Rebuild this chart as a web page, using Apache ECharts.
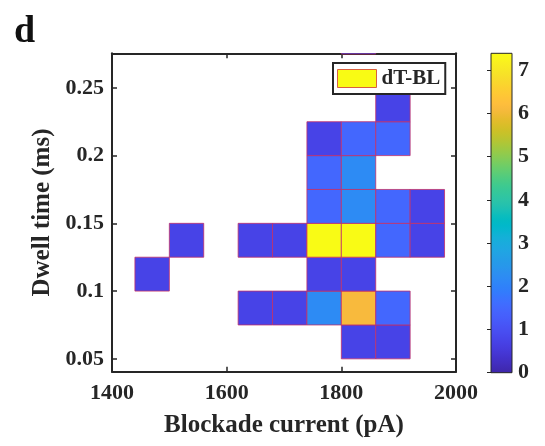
<!DOCTYPE html>
<html>
<head>
<meta charset="utf-8">
<script src="https://cdn.jsdelivr.net/npm/echarts@6/dist/echarts.min.js"></script>
<style>html,body{margin:0;padding:0;background:#fff;}#c{width:545px;height:446px;}</style>
</head>
<body>
<div id="c"></div>
<script>
// ---- data ----
const xBinWidth = 60;          // pA
const yBinHeight = 0.025;      // ms
const xTicks = [1400, 1600, 1800, 2000];
const yTicks = [0.05, 0.1, 0.15, 0.2, 0.25];
const cbTicks = [0, 1, 2, 3, 4, 5, 6, 7];
const colorMax = 7.39;
// bin lower-left corners and counts: [current, dwell, value]
const cellCurrent = [1800, 1860, 1620, 1680, 1740, 1800, 1860, 1440, 1740, 1800, 1500, 1620, 1680, 1740, 1800, 1860, 1920, 1740, 1800, 1860, 1920, 1740, 1800, 1740, 1800, 1860, 1860, 1800];
const cellDwell   = [0.05, 0.05, 0.075, 0.075, 0.075, 0.075, 0.075, 0.1, 0.1, 0.1, 0.125, 0.125, 0.125, 0.125, 0.125, 0.125, 0.125, 0.15, 0.15, 0.15, 0.15, 0.175, 0.175, 0.2, 0.2, 0.2, 0.225, 0.275];
const cellValue   = [0.74, 0.74, 0.74, 0.74, 2.2, 6.1, 1.48, 0.74, 0.74, 0.74, 0.74, 0.74, 0.74, 7.39, 7.39, 1.48, 0.74, 1.48, 2.2, 1.48, 0.74, 1.48, 2.2, 0.74, 1.48, 1.48, 0.74, 0.74];
const seriesName = 'dT-BL';

// ---- parula colormap (style) ----
const PARULA = [
[0.2422,0.1504,0.6603],[0.2504,0.1650,0.7076],[0.2578,0.1818,0.7511],[0.2647,0.1978,0.7952],
[0.2706,0.2147,0.8364],[0.2751,0.2342,0.8710],[0.2783,0.2559,0.8991],[0.2803,0.2782,0.9221],
[0.2813,0.3006,0.9414],[0.2810,0.3228,0.9579],[0.2795,0.3447,0.9717],[0.2760,0.3667,0.9829],
[0.2699,0.3892,0.9906],[0.2602,0.4123,0.9952],[0.2440,0.4358,0.9988],[0.2206,0.4603,0.9973],
[0.1963,0.4847,0.9892],[0.1834,0.5074,0.9798],[0.1786,0.5289,0.9682],[0.1764,0.5499,0.9520],
[0.1687,0.5703,0.9359],[0.1540,0.5902,0.9218],[0.1460,0.6091,0.9079],[0.1380,0.6276,0.8973],
[0.1248,0.6459,0.8883],[0.1113,0.6635,0.8763],[0.0952,0.6798,0.8598],[0.0689,0.6948,0.8394],
[0.0297,0.7082,0.8163],[0.0036,0.7203,0.7917],[0.0067,0.7312,0.7660],[0.0433,0.7411,0.7394],
[0.0964,0.7500,0.7120],[0.1408,0.7584,0.6842],[0.1717,0.7670,0.6554],[0.1938,0.7758,0.6251],
[0.2161,0.7843,0.5923],[0.2470,0.7918,0.5567],[0.2906,0.7973,0.5188],[0.3406,0.8008,0.4789],
[0.3909,0.8029,0.4354],[0.4456,0.8024,0.3909],[0.5044,0.7993,0.3480],[0.5616,0.7942,0.3045],
[0.6174,0.7876,0.2612],[0.6720,0.7793,0.2227],[0.7242,0.7698,0.1910],[0.7738,0.7598,0.1646],
[0.8203,0.7498,0.1535],[0.8634,0.7406,0.1596],[0.9035,0.7330,0.1774],[0.9393,0.7288,0.2100],
[0.9728,0.7298,0.2394],[0.9956,0.7434,0.2371],[0.9970,0.7659,0.2199],[0.9952,0.7893,0.2028],
[0.9892,0.8136,0.1885],[0.9814,0.8386,0.1759],[0.9738,0.8639,0.1649],[0.9704,0.8890,0.1535],
[0.9730,0.9139,0.1389],[0.9775,0.9384,0.1240],[0.9785,0.9675,0.1036],[0.9769,0.9839,0.0805]
].map(c => 'rgb(' + c.map(v => Math.round(v * 255)).join(',') + ')');

const FONT = 'Liberation Serif';
const INK = '#262626';
const cells = cellCurrent.map((x, i) => [x, cellDwell[i], cellValue[i]]);

const chart = echarts.init(document.getElementById('c'), null, {renderer: 'canvas'});

const axisCommon = {
  type: 'value',
  axisLine: {show: true, onZero: false, lineStyle: {color: INK, width: 2}},
  axisTick: {show: true, inside: true, length: 5, lineStyle: {color: INK, width: 1.5}},
  splitLine: {show: false},
  axisLabel: {color: INK, fontFamily: FONT, fontWeight: 'bold', fontSize: 22}
};

const option = {
  animation: false,
  backgroundColor: '#fff',
  grid: [
    {left: 112, right: 89, top: 53.3, bottom: 74.3},
    {left: 491, width: 21, top: 53.3, bottom: 73.3}
  ],
  xAxis: [
    Object.assign({}, axisCommon, {
      gridIndex: 0, position: 'bottom', min: 1400, max: 2000, interval: 200,
      axisLabel: Object.assign({}, axisCommon.axisLabel, {margin: 11, customValues: xTicks, formatter: v => String(v)}),
      axisTick: Object.assign({}, axisCommon.axisTick, {customValues: xTicks}),
      name: 'Blockade current (pA)', nameLocation: 'middle', nameGap: 41,
      nameTextStyle: {color: INK, fontFamily: FONT, fontWeight: 'bold', fontSize: 25}
    }),
    Object.assign({}, axisCommon, {
      gridIndex: 0, position: 'top', min: 1400, max: 2000, interval: 200,
      axisLabel: {show: false},
      axisTick: Object.assign({}, axisCommon.axisTick, {customValues: xTicks})
    }),
    {gridIndex: 1, type: 'value', min: 0, max: 1, show: false}
  ],
  yAxis: [
    Object.assign({}, axisCommon, {
      gridIndex: 0, position: 'left', min: 0.0405, max: 0.2755,
      axisLabel: Object.assign({}, axisCommon.axisLabel, {margin: 8, customValues: yTicks}),
      axisTick: Object.assign({}, axisCommon.axisTick, {customValues: yTicks}),
      name: 'Dwell time (ms)', nameLocation: 'middle', nameGap: 56,
      nameTextStyle: {color: INK, fontFamily: FONT, fontWeight: 'bold', fontSize: 25}
    }),
    Object.assign({}, axisCommon, {
      gridIndex: 0, position: 'right', min: 0.0405, max: 0.2755,
      axisLabel: {show: false},
      axisTick: Object.assign({}, axisCommon.axisTick, {customValues: yTicks})
    }),
    {
      gridIndex: 1, type: 'value', position: 'right', min: 0, max: colorMax,
      axisLine: {show: false},
      axisTick: {show: true, inside: true, length: 4, customValues: cbTicks, lineStyle: {color: INK, width: 1}},
      axisLabel: {color: INK, fontFamily: FONT, fontWeight: 'bold', fontSize: 22, margin: 6, customValues: cbTicks},
      splitLine: {show: false}
    }
  ],
  visualMap: {
    type: 'continuous', show: false, min: 0, max: colorMax, dimension: 2, seriesIndex: 0,
    inRange: {color: PARULA}
  },
  legend: {
    left: 333, top: 63,
    padding: [5, 5, 5, 4],
    itemWidth: 39, itemHeight: 18, itemGap: 5,
    borderColor: INK, borderWidth: 2, backgroundColor: '#fff',
    textStyle: {color: INK, fontFamily: FONT, fontWeight: 'bold', fontSize: 21, padding: [0, 0, 0, 0]},
    data: [{name: seriesName, icon: 'rect', itemStyle: {color: '#f9fb14', borderColor: '#d9603f', borderWidth: 1}}]
  },
  graphic: [{
    type: 'text', left: 14, top: 12.8, z: 10,
    style: {text: 'd', fill: '#111', font: 'bold 38px "Liberation Serif"'}
  }],
  series: [
    {
      name: seriesName,
      type: 'custom',
      xAxisIndex: 0, yAxisIndex: 0,
      clip: true,
      encode: {x: 0, y: 1},
      data: cells,
      renderItem: function (params, api) {
        const x0 = api.value(0), y0 = api.value(1);
        const p0 = api.coord([x0, y0]);
        const p1 = api.coord([x0 + xBinWidth, y0 + yBinHeight]);
        return {
          type: 'rect',
          shape: {x: p0[0], y: p1[1], width: p1[0] - p0[0], height: p0[1] - p1[1]},
          style: {fill: api.visual('color'), stroke: '#c0306a', lineWidth: 0.8}
        };
      }
    },
    {
      name: 'colorbar',
      type: 'custom',
      xAxisIndex: 2, yAxisIndex: 2,
      silent: true,
      data: [[0, 0, colorMax]],
      renderItem: function (params, api) {
        const p0 = api.coord([0, 0]);
        const p1 = api.coord([1, api.value(2)]);
        const stops = PARULA.map((c, i) => ({offset: i / (PARULA.length - 1), color: c}));
        return {
          type: 'rect',
          shape: {x: p0[0], y: p1[1], width: p1[0] - p0[0], height: p0[1] - p1[1]},
          style: {fill: new echarts.graphic.LinearGradient(0, 1, 0, 0, stops), stroke: INK, lineWidth: 1}
        };
      }
    }
  ]
};
chart.setOption(option);
</script>
</body>
</html>
